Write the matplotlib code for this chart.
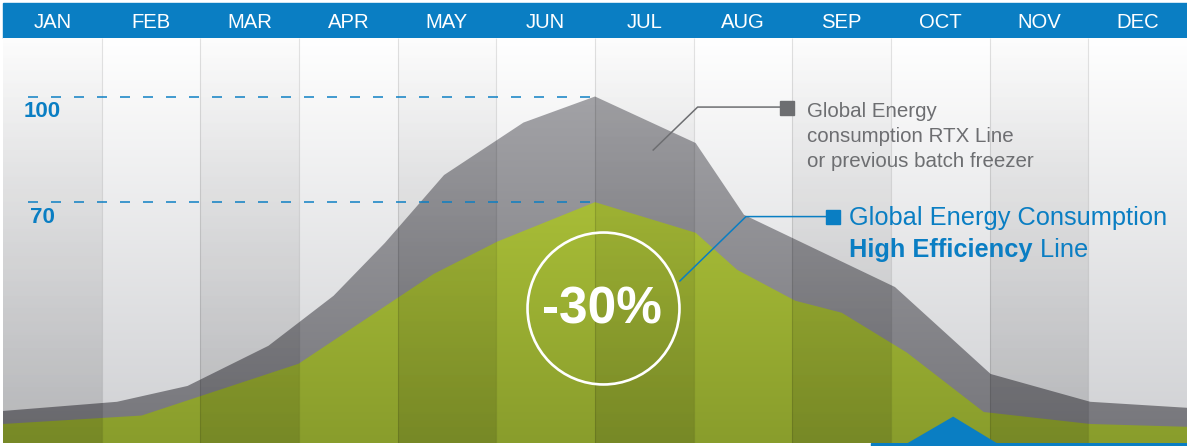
import numpy as np
import matplotlib
matplotlib.use("Agg")
from matplotlib import pyplot as plt
from matplotlib.colors import to_rgb
from matplotlib.patches import Rectangle

plt.rcParams['font.family'] = ['Liberation Sans', 'DejaVu Sans']

# chart data (x in months from start of JAN, y in consumption index)
months = ['JAN', 'FEB', 'MAR', 'APR', 'MAY', 'JUN', 'JUL', 'AUG', 'SEP', 'OCT', 'NOV', 'DEC']
rtx_month = [0, 1.155, 1.87, 2.69, 3.35, 3.87, 4.47, 5.275, 6.0, 7.02, 7.51, 9.04, 10.01, 11.02, 12]
rtx_value = [10.7, 13.3, 17.8, 29.2, 43.4, 58.4, 77.7, 92.6, 100, 86.8, 66.4, 45.9, 21.2, 13.3, 11.6]
he_month = [0, 1.405, 2.995, 4.364, 5.01, 6.0, 7.02, 7.44, 8.03, 8.5, 9.16, 9.94, 11.02, 12]
he_value = [7.0, 9.4, 24.1, 49.6, 58.8, 70, 61.3, 50.8, 42.0, 38.6, 27.3, 10.4, 7.0, 6.2]
ref_levels = [100, 70]
saving_label = '-30%'
rtx_label = ['Global Energy', 'consumption RTX Line', 'or previous batch freezer']
he_label = ['Global Energy Consumption', 'High Efficiency', ' Line']

BLUE = '#0a7ec3'
GREY = '#6d6e71'
Y_MIN, Y_MAX = 1.6, 116.7
W, H = 1187, 446


def vertical_gradient(top: str, bottom: str, n: int = 256) -> np.array:
    c0, c1 = np.array(to_rgb(top)), np.array(to_rgb(bottom))
    t = np.linspace(0, 1, n)[:, None]
    return (c0 + (c1 - c0) * t)[:, None, :]


def gradient_area(ax, x: list, y: list, top: str, bottom: str, y_top: float, zorder: int):
    poly = ax.fill_between(x, y, Y_MIN, color='none', lw=0)
    im = ax.imshow(vertical_gradient(top, bottom), extent=[0, 12, Y_MIN, y_top],
                   aspect='auto', zorder=zorder, interpolation='bilinear')
    im.set_clip_path(poly.get_paths()[0], transform=ax.transData)


fig = plt.figure(figsize=(W / 100, H / 100), dpi=100)
fig.patches.append(Rectangle((3 / W, 408.3 / H), 1184 / W, 35 / H, transform=fig.transFigure,
                             color=BLUE, zorder=-1))
fig.patches.append(Rectangle((871 / W, 0), (W - 871) / W, 3.3 / H, transform=fig.transFigure,
                             color=BLUE, zorder=-1))
ax = fig.add_axes([3 / W, 3 / H, 1184 / W, 405.3 / H])
ax.patch.set_alpha(0)

# background + areas
ax.imshow(vertical_gradient('#ffffff', '#cfd0d3'), extent=[0, 12, Y_MIN, Y_MAX],
          aspect='auto', zorder=0, interpolation='bilinear')
gradient_area(ax, rtx_month, rtx_value, '#a2a2a6', '#76767b', 100, 1)
gradient_area(ax, he_month, he_value, '#a8bd37', '#899d2c', 70, 2)

# alternate month shading
shade = np.zeros((256, 12, 4))
shade[:, ::2, 3] = (0.01 + 0.12 * np.linspace(0, 1, 256))[:, None]
ax.imshow(shade, extent=[0, 12, Y_MIN, Y_MAX], aspect='auto', zorder=3, interpolation='nearest')
ax.vlines(np.arange(1, 12), Y_MIN, Y_MAX, colors='black', alpha=0.11, lw=0.8, zorder=4)

# reference levels
for level in ref_levels:
    ax.hlines(level, 0.25, 6.0, colors=BLUE, linestyles=(0, (6.0, 7.8)), lw=1.2, alpha=0.9, zorder=5)
    ax.annotate(str(level), xy=(0.4, level), xytext=(0, -3.5), textcoords='offset points',
                ha='center', va='top', fontsize=16, fontweight='bold', color=BLUE, zorder=5)

# -30% badge
ax.plot(6.08, 40, 'o', ms=109.4, mfc='none', mec='white', mew=1.9, zorder=6)
ax.text(6.07, 35.4, saving_label, ha='center', va='baseline', fontsize=37, fontweight='bold',
        color='white', zorder=7)

# RTX line callout
ax.plot([6.59, 7.04, 7.9], [84.8, 97.0, 97.0], color=GREY, lw=1.1, zorder=6)
ax.plot(7.946, 96.8, 's', ms=10, color=GREY, zorder=6)
for i, line in enumerate(rtx_label):
    ax.text(8.145, 94.3 - 7.1 * i, line, va='baseline', fontsize=14.8, color=GREY, zorder=6)

# high efficiency callout
ax.plot([6.86, 7.53, 8.4], [47.6, 65.9, 65.9], color=BLUE, lw=1.1, zorder=6)
ax.plot(8.41, 65.8, 's', ms=10, color=BLUE, zorder=6)
ax.text(8.577, 63.55, he_label[0], va='baseline', fontsize=18.3, color=BLUE, zorder=6)
t = ax.text(8.577, 54.5, he_label[1], va='baseline', fontsize=18.3, fontweight='bold', color=BLUE, zorder=6)
ax.annotate(he_label[2], xy=(1, 0), xycoords=t, va='bottom', fontsize=18.3, color=BLUE, zorder=6)

# bottom marker
ax.fill([9.17, 9.63, 10.07], [Y_MIN, 9.1, Y_MIN], color=BLUE, zorder=8, clip_on=False, lw=0)

ax.set_xlim(0, 12)
ax.set_ylim(Y_MIN, Y_MAX)
ax.set_xticks(np.arange(12) + 0.5, months)
ax.xaxis.tick_top()
ax.tick_params(axis='x', length=0, pad=4.3, labelsize=14.6, labelcolor='white')
ax.set_yticks([])
for s in ax.spines.values():
    s.set_visible(False)

fig.savefig('out.png', dpi=100)
